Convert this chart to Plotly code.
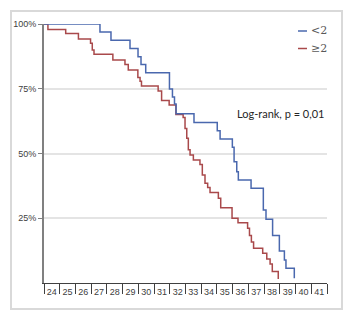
import plotly.graph_objects as go

# ---- data ----
weeks = list(range(24, 42))
week_labels = [str(w) for w in weeks]

blue_name = "<2"
blue_time = [23.5, 27.06, 27.76, 28.97, 29.48, 29.67, 29.97, 31.48, 31.67, 31.80, 31.90,
             33.04, 34.52, 34.70, 35.48, 35.59, 35.76, 35.86, 36.67, 37.45, 37.62, 38.04,
             38.47, 38.79, 38.89, 39.42]
blue_surv = [100, 96.9, 93.7, 90.5, 87.4, 84.4, 81.2, 74.9, 71.8, 69.1, 65.3,
             62.0, 58.8, 55.6, 52.4, 46.8, 43.0, 39.8, 36.6, 28.2, 24.6, 18.3,
             12.4, 8.9, 5.7, 1.8]

red_name = "≥2"
red_time = [23.5, 23.75, 24.88, 25.69, 26.46, 26.57, 26.68, 27.88, 28.65, 28.86, 29.47,
            29.61, 29.70, 30.76, 30.98, 31.46, 31.89, 32.35, 32.47, 32.58, 32.68, 32.79,
            33.00, 33.42, 33.57, 33.74, 33.91, 34.06, 34.59, 34.74, 35.46, 35.84, 36.45,
            36.57, 36.69, 36.83, 37.41, 37.67, 37.88, 38.02, 38.40]
red_surv = [100, 97.9, 96.3, 94.2, 92.6, 90.0, 88.3, 86.1, 84.4, 82.2, 79.3,
            77.9, 76.1, 74.1, 70.5, 68.7, 65.1, 63.9, 59.7, 55.9, 51.4, 49.4,
            47.5, 45.8, 41.7, 38.5, 36.9, 34.9, 32.7, 29.1, 25.0, 23.3, 21.1,
            18.3, 15.8, 13.4, 11.5, 9.3, 7.3, 4.4, 1.5]

y_ticks = [25, 50, 75, 100]
y_labels = ["25%", "50%", "75%", "100%"]
annotation_text = "Log-rank, p = 0,01"

blue_color = "#4A68AE"
red_color = "#A9494B"

# ---- figure ----
fig = go.Figure()
fig.add_trace(go.Scatter(x=red_time, y=red_surv, mode="lines", line_shape="hv",
                         line=dict(color=red_color, width=1.5), name=red_name))
fig.add_trace(go.Scatter(x=blue_time, y=blue_surv, mode="lines", line_shape="hv",
                         line=dict(color=blue_color, width=1.5), name=blue_name))

W, H = 359, 330
L, R, T, B = 44, 32, 24, 47
pw, ph = W - L - R, H - T - B

def px(x):
    return (x - L) / pw

def py(y):
    return (H - B - y) / ph

fig.update_layout(
    width=W, height=H,
    margin=dict(l=L, r=R, t=T, b=B),
    paper_bgcolor="white", plot_bgcolor="white",
    showlegend=False,
    font=dict(family="Liberation Sans, Arial", size=9, color="#404040"),
)

fig.update_xaxes(
    range=[23.5, 41.5], tickmode="array", tickvals=weeks, ticktext=week_labels,
    ticks="", showline=True, linecolor="#404040", linewidth=1, showgrid=False,
    zeroline=False, tickfont=dict(size=9, color="#404040"),
    minor=dict(tickmode="array", tickvals=[w - 0.5 for w in weeks] + [41.5],
               ticks="outside", ticklen=10, tickwidth=1, tickcolor="#404040",
               showgrid=False),
)
fig.update_yaxes(
    range=[0, 100], tickmode="array", tickvals=y_ticks, ticktext=y_labels,
    ticks="outside", ticklen=4, tickwidth=1, tickcolor="#808080",
    showline=True, linecolor="#808080", linewidth=2,
    showgrid=True, gridcolor="#E4E4E4", gridwidth=1.5, zeroline=False,
    tickfont=dict(size=9, color="#404040"),
)

shapes = [
    dict(type="rect", xref="paper", yref="paper",
         x0=px(11), x1=px(342), y0=py(309), y1=py(11),
         line=dict(color="#D9D9D9", width=2), fillcolor="rgba(0,0,0,0)", layer="below"),
    dict(type="line", xref="paper", yref="paper",
         x0=px(298), x1=px(307), y0=py(31), y1=py(31),
         line=dict(color=blue_color, width=1.5)),
    dict(type="line", xref="paper", yref="paper",
         x0=px(298), x1=px(307), y0=py(48.5), y1=py(48.5),
         line=dict(color=red_color, width=1.5)),
]
fig.update_layout(shapes=shapes)

fig.add_annotation(xref="paper", yref="paper", x=px(309), y=py(31), text=blue_name,
                   showarrow=False, xanchor="left", yanchor="middle",
                   font=dict(family="DejaVu Serif", size=11, color="#595959"))
fig.add_annotation(xref="paper", yref="paper", x=px(309), y=py(48.5), text=red_name,
                   showarrow=False, xanchor="left", yanchor="middle",
                   font=dict(family="DejaVu Serif", size=11, color="#595959"))
fig.add_annotation(xref="paper", yref="paper", x=px(281), y=py(113), text=annotation_text,
                   showarrow=False, xanchor="center", yanchor="middle",
                   font=dict(family="Lato", size=11, color="#262626"))

fig.write_html("out.html")
